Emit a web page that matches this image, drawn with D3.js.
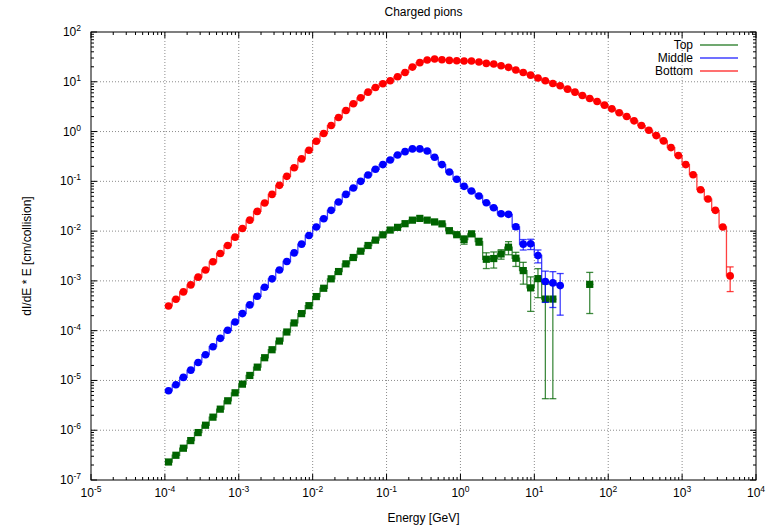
<!DOCTYPE html>
<html><head><meta charset="utf-8">
<script src="https://cdn.jsdelivr.net/npm/d3@7"></script>
<style>body{margin:0;background:#fff} svg{display:block;font-family:"Liberation Sans",Arial,Helvetica,sans-serif}</style>
</head><body><svg id="c" width="778" height="530"></svg>
<script>
// ---- data ----
const energy = [
  1.12e-4,1.41e-4,1.78e-4,2.24e-4,2.82e-4,3.55e-4,4.47e-4,5.62e-4,7.08e-4,8.91e-4,
  1.12e-3,1.41e-3,1.78e-3,2.24e-3,2.82e-3,3.55e-3,4.47e-3,5.62e-3,7.08e-3,8.91e-3,
  1.12e-2,1.41e-2,1.78e-2,2.24e-2,2.82e-2,3.55e-2,4.47e-2,5.62e-2,7.08e-2,8.91e-2,
  1.12e-1,1.41e-1,1.78e-1,2.24e-1,2.82e-1,3.55e-1,4.47e-1,5.62e-1,7.08e-1,8.91e-1,
  1.12,1.41,1.78,2.24,2.82,3.55,4.47,5.62,7.08,8.91,
  11.2,14.1,17.8,22.4,28.2,35.5,44.7,56.2,70.8,89.1,
  112,141,178,224,282,355,447,562,708,891,
  1120,1410,1780,2240,2820,3550,4470
];
const topVals = [
  2.30e-7,3.14e-7,4.35e-7,6.19e-7,8.97e-7,1.26e-6,1.83e-6,2.65e-6,3.90e-6,5.65e-6,
  8.43e-6,1.26e-5,1.85e-5,2.86e-5,4.14e-5,6.19e-5,9.40e-5,1.43e-4,2.20e-4,3.18e-4,
  4.84e-4,7.11e-4,1.10e-3,1.54e-3,2.20e-3,2.95e-3,3.95e-3,5.14e-3,6.59e-3,8.43e-3,
  1.05e-2,1.19e-2,1.41e-2,1.66e-2,1.80e-2,1.66e-2,1.53e-2,1.40e-2,1.02e-2,8.47e-3,
  6.76e-3,8.81e-3,6.17e-3,2.72e-3,2.81e-3,3.48e-3,4.75e-3,2.85e-3,1.61e-3,7.24e-4,
  1.11e-3,4.31e-4,4.31e-4,null,null,null,null,8.51e-4
];
const topErr = [
  0,0,0,0,0,0,0,0,0,0, 0,0,0,0,0,0,0,0,0,0, 0,0,0,0,0,0,0,0,0,0,
  0,0,0,0,0,0,4e-4,5e-4,8e-4,6e-4,
  1.3e-3,8e-4,1e-3,9.5e-4,1e-3,7.5e-4,1.4e-3,9e-4,7.5e-4,4.8e-4,
  6.5e-4,4.267e-4,4.267e-4,0,0,0,0,6.3e-4
];
const middleVals = [
  6.19e-6,8.18e-6,1.15e-5,1.61e-5,2.30e-5,3.29e-5,4.76e-5,7.01e-5,1.02e-4,1.49e-4,
  2.20e-4,3.29e-4,4.91e-4,7.45e-4,1.10e-3,1.66e-3,2.45e-3,3.66e-3,5.47e-3,8.18e-3,
  1.21e-2,1.77e-2,2.61e-2,3.84e-2,5.47e-2,7.35e-2,0.100,0.134,0.175,0.217,
  0.269,0.339,0.395,0.448,0.448,0.408,0.304,0.217,0.154,0.110,
  7.93e-2,6.38e-2,5.07e-2,3.72e-2,2.95e-2,2.23e-2,2.17e-2,1.22e-2,5.47e-3,5.56e-3,
  3.24e-3,9.70e-4,9.12e-4,8.05e-4
];
const middleErr = [
  0,0,0,0,0,0,0,0,0,0, 0,0,0,0,0,0,0,0,0,0, 0,0,0,0,0,0,0,0,0,0,
  0,0,0,0,0,0,0,0,0,0, 0,0,0,0,1.5e-3,1.5e-3,1.5e-3,1.3e-3,1.3e-3,1.3e-3,
  9.4e-4,6e-4,6.2e-4,6e-4
];
const bottomVals = [
  3.14e-4,4.28e-4,6.01e-4,8.30e-4,1.19e-3,1.66e-3,2.42e-3,3.55e-3,5.14e-3,7.57e-3,
  1.13e-2,1.66e-2,2.49e-2,3.66e-2,5.47e-2,8.30e-2,0.126,0.188,0.282,0.421,
  0.638,0.912,1.32,1.91,2.65,3.61,4.76,6.19,7.69,9.12,
  10.5,12.6,15.4,19.7,24.2,27.3,28.6,27.7,26.9,26.5,
  26.1,26.1,24.9,23.4,22.7,21.0,19.5,17.2,15.4,13.6,
  11.9,10.5,9.25,8.30,7.11,6.19,5.31,4.61,4.02,3.39,
  2.86,2.38,2.00,1.64,1.32,1.06,0.830,0.649,0.476,0.329,
  0.217,0.136,6.79e-2,4.41e-2,2.61e-2,1.21e-2,1.26e-3
];
const bottomErr = [
  0,0,0,0,0,0,0,0,0,0, 0,0,0,0,0,0,0,0,0,0, 0,0,0,0,0,0,0,0,0,0,
  0,0,0,0,0,0,0,0,0,0, 0,0,0,0,0,0,0,0,0,0, 0,0,0,0,0,0,0,0,0,0,
  0,0,0,0,0,0,0,0,0,0, 0,0,0,0,0,0,6.5e-4
];
const seriesNames = ["Top", "Middle", "Bottom"];
const xTickExps = [-5,-4,-3,-2,-1,0,1,2,3,4];
const yTickExps = [-7,-6,-5,-4,-3,-2,-1,0,1,2];
const titleText = "Charged pions";
const xLabel = "Energy [GeV]";
const yLabel = "dI/dE * E [cm/collision]";

// ---- layout ----
const L = 91, R = 756, T = 32, B = 480;
const svg = d3.select("#c");
const x = d3.scaleLog().domain([1e-5, 1e4]).range([L, R]);
const y = d3.scaleLog().domain([1e-7, 1e2]).range([B, T]);

const styles = [
  {line: "#006400", fill: "#006400", shape: "square"},
  {line: "#0000ff", fill: "#0000ff", shape: "circle"},
  {line: "#ff0000", fill: "#ff0000", shape: "circle"}
];

// grid
const g = svg.append("g");
xTickExps.slice(1, -1).forEach(e => {
  g.append("line").attr("x1", x(10 ** e)).attr("x2", x(10 ** e)).attr("y1", T).attr("y2", B)
    .attr("stroke", "#8c8c8c").attr("stroke-width", 1).attr("stroke-dasharray", "1,2");
});
yTickExps.slice(1, -1).forEach(e => {
  g.append("line").attr("y1", y(10 ** e)).attr("y2", y(10 ** e)).attr("x1", L).attr("x2", R)
    .attr("stroke", "#8c8c8c").attr("stroke-width", 1).attr("stroke-dasharray", "1,2");
});

// ticks (inward, mirrored)
const ax = svg.append("g").attr("stroke", "#000").attr("stroke-width", 1);
const minorX = [], minorY = [];
for (let e = -5; e < 4; e++) for (let m = 2; m <= 9; m++) minorX.push(m * 10 ** e);
for (let e = -7; e < 2; e++) for (let m = 2; m <= 9; m++) minorY.push(m * 10 ** e);
xTickExps.forEach(e => {
  const px = x(10 ** e);
  ax.append("line").attr("x1", px).attr("x2", px).attr("y1", B).attr("y2", B - 6);
  ax.append("line").attr("x1", px).attr("x2", px).attr("y1", T).attr("y2", T + 6);
});
minorX.forEach(v => {
  const px = x(v);
  ax.append("line").attr("x1", px).attr("x2", px).attr("y1", B).attr("y2", B - 3);
  ax.append("line").attr("x1", px).attr("x2", px).attr("y1", T).attr("y2", T + 3);
});
yTickExps.forEach(e => {
  const py = y(10 ** e);
  ax.append("line").attr("y1", py).attr("y2", py).attr("x1", L).attr("x2", L + 6);
  ax.append("line").attr("y1", py).attr("y2", py).attr("x1", R).attr("x2", R - 6);
});
minorY.forEach(v => {
  const py = y(v);
  ax.append("line").attr("y1", py).attr("y2", py).attr("x1", L).attr("x2", L + 3);
  ax.append("line").attr("y1", py).attr("y2", py).attr("x1", R).attr("x2", R - 3);
});

// tick labels
xTickExps.forEach(e => {
  const t = svg.append("text").attr("x", x(10 ** e)).attr("y", 497)
    .attr("text-anchor", "middle").attr("font-size", 12).attr("fill", "#000");
  t.append("tspan").text("10");
  t.append("tspan").attr("dy", -5).attr("font-size", 8.5).text(e);
});
yTickExps.forEach(e => {
  const t = svg.append("text").attr("x", 81).attr("y", y(10 ** e) + 4)
    .attr("text-anchor", "end").attr("font-size", 12).attr("fill", "#000");
  t.append("tspan").text("10");
  t.append("tspan").attr("dy", -5).attr("font-size", 8.5).text(e);
});

// titles
svg.append("text").attr("x", (L + R) / 2).attr("y", 16).attr("text-anchor", "middle")
  .attr("font-size", 12).text(titleText);
svg.append("text").attr("x", (L + R) / 2).attr("y", 522).attr("text-anchor", "middle")
  .attr("font-size", 12).text(xLabel);
svg.append("text").attr("transform", `translate(31,${(T + B) / 2}) rotate(-90)`)
  .attr("text-anchor", "middle").attr("font-size", 12).text(yLabel);

// series
const allVals = [topVals, middleVals, bottomVals];
const allErr = [topErr, middleErr, bottomErr];
const plot = svg.append("g");

function histeps(vals) {
  const segs = [];
  let cur = [];
  vals.forEach((v, i) => {
    if (v == null) { if (cur.length) segs.push(cur); cur = []; }
    else cur.push(i);
  });
  if (cur.length) segs.push(cur);
  const edge = (i, side) => {
    if (side < 0) return i > 0 ? Math.sqrt(energy[i] * energy[i - 1]) : energy[i] * Math.sqrt(energy[i] / energy[i + 1]);
    return i < energy.length - 1 ? Math.sqrt(energy[i] * energy[i + 1]) : energy[i] * Math.sqrt(energy[i] / energy[i - 1]);
  };
  return segs.map(s => {
    let d = "";
    s.forEach((i, j) => {
      const yl = y(vals[i]);
      const xl = x(edge(i, -1)), xr = x(edge(i, 1));
      d += (j === 0 ? "M" : "L") + xl + "," + yl + "L" + xr + "," + yl;
    });
    return d;
  }).join("");
}

allVals.forEach((vals, si) => {
  const st = styles[si];
  const sg = plot.append("g");
  sg.append("path").attr("d", histeps(vals)).attr("fill", "none")
    .attr("stroke", st.line).attr("stroke-width", 1.3).attr("stroke-opacity", 0.75);
  const errs = allErr[si];
  vals.forEach((v, i) => {
    if (v == null || !errs[i]) return;
    const lo = Math.max(v - errs[i], 1e-7), hi = v + errs[i];
    const px = x(energy[i]);
    const eb = sg.append("g").attr("stroke", st.line).attr("stroke-width", 1.3).attr("stroke-opacity", 0.75);
    eb.append("line").attr("x1", px).attr("x2", px).attr("y1", y(lo)).attr("y2", y(hi));
    eb.append("line").attr("x1", px - 3.5).attr("x2", px + 3.5).attr("y1", y(lo)).attr("y2", y(lo));
    eb.append("line").attr("x1", px - 3.5).attr("x2", px + 3.5).attr("y1", y(hi)).attr("y2", y(hi));
  });
  vals.forEach((v, i) => {
    if (v == null) return;
    const px = x(energy[i]), py = y(v);
    if (st.shape === "square") {
      sg.append("rect").attr("x", px - 3.6).attr("y", py - 3.6).attr("width", 7.2).attr("height", 7.2).attr("fill", st.fill);
    } else {
      sg.append("circle").attr("cx", px).attr("cy", py).attr("r", 3.8).attr("fill", st.fill);
    }
  });
});

// frame
svg.append("rect").attr("x", L).attr("y", T).attr("width", R - L).attr("height", B - T)
  .attr("fill", "none").attr("stroke", "#000").attr("stroke-width", 1);

// legend
seriesNames.forEach((n, i) => {
  const ly = 45 + i * 13;
  svg.append("text").attr("x", 693).attr("y", ly + 4).attr("text-anchor", "end")
    .attr("font-size", 12).text(n);
  svg.append("line").attr("x1", 700).attr("x2", 738).attr("y1", ly).attr("y2", ly)
    .attr("stroke", styles[i].line).attr("stroke-width", 1.5).attr("stroke-opacity", 0.75);
});
</script></body></html>
